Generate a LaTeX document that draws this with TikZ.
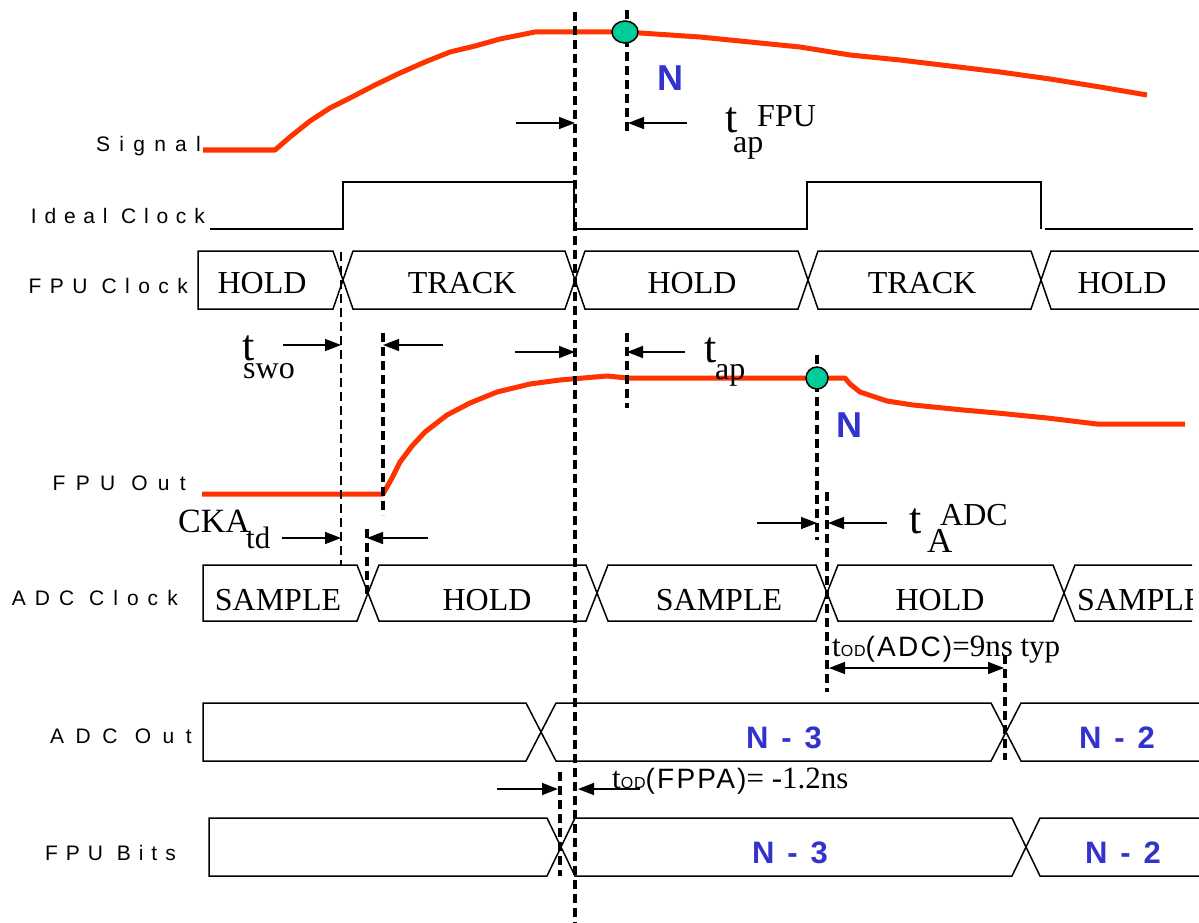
\documentclass[tikz,border=0pt]{standalone}
\usepackage{fontspec}
\setmainfont{Liberation Serif}
\newfontfamily\arialn[LetterSpace=14]{Liberation Sans}
\newfontfamily\arialpl{Liberation Sans}
\usetikzlibrary{arrows.meta}
\definecolor{sigred}{HTML}{FF3300}
\definecolor{nblue}{HTML}{3333CC}
\definecolor{dotgreen}{HTML}{00CC99}
\newcommand{\fsz}[1]{\fontsize{#1}{#1}\selectfont}
\newcommand{\lsp}[1]{\addfontfeature{LetterSpace=#1}}
% hexagon bus segment: #1 top, #2 bottom, #3 half slant, #4 left crossing, #5 right crossing
\newcommand{\hexseg}[5]{%
  \draw[bus] ({#4},{(#1+#2)/2}) -- ({#4+#3},#1) -- ({#5-#3},#1) -- ({#5},{(#1+#2)/2}) -- ({#5-#3},#2) -- ({#4+#3},#2) -- cycle;}
% first segment with a vertical left edge at #4
\newcommand{\firstseg}[5]{%
  \draw[bus] (#4,#1) -- ({#5-#3},#1) -- ({#5},{(#1+#2)/2}) -- ({#5-#3},#2) -- (#4,#2) -- cycle;}
% last open segment from crossing #4 to right end #5
\newcommand{\lastseg}[5]{%
  \draw[bus] (#5,#1) -- ({#4+#3},#1) -- ({#4},{(#1+#2)/2}) -- ({#4+#3},#2) -- (#5,#2);}
\tikzset{
  lbl/.style={font=\arialpl\fsz{21}, anchor=base east, inner sep=0pt},
  bustxt/.style={font=\fsz{32}, anchor=base, inner sep=0pt},
  ntxt/.style={font=\arialn\bfseries\fsz{31}, text=nblue, anchor=base, inner sep=0pt},
  bigN/.style={font=\arialpl\bfseries\fsz{36}, text=nblue, anchor=center, inner sep=0pt},
  tbase/.style={font=\fsz{44}, anchor=base west, inner sep=0pt},
  tsub/.style={font=\fsz{32}, anchor=base west, inner sep=0pt},
  bus/.style={line width=1.5pt, line join=miter},
  sig/.style={draw=sigred, line width=5pt, line join=round},
  dsh/.style={dash pattern=on 9pt off 5pt, line width=3.2pt},
  meas/.style={line width=1.5pt, -{Triangle[length=16pt,width=12pt]}},
  dot/.style={draw=black, line width=1.5pt, fill=dotgreen}
}
\begin{document}
\begin{tikzpicture}[x=1pt,y=-1pt]
\useasboundingbox[fill=white] (0,0) rectangle (1199,923);

% ---------- row labels ----------
\node[lbl] (lsig) at (201,151) {\lsp{44}Signal};
\node[lbl] (lideal) at (205,223) {\lsp{37}Ideal Clock};
\node[lbl] (lfpuclk) at (188,293) {\lsp{40}FPU Clock};
\node[lbl] (lfpuout) at (186,490) {\lsp{49}FPU Out};
\node[lbl] (ladcclk) at (178,605) {\lsp{43}ADC Clock};
\node[lbl] (ladcout) at (192,743) {\lsp{55}ADC Out};
\node[lbl] (lfpubits) at (176,860) {\lsp{38}FPU Bits};

% ---------- Signal ----------
\draw[sig] (203,150) -- (275,150) -- (290,137) -- (310,121) -- (330,108) -- (350,98) -- (375,85) -- (400,73) -- (425,62) -- (450,52) -- (475,46) -- (500,39) -- (520,35) -- (535,32) -- (625,32)
  -- (700,37) -- (800,47) -- (850,55) -- (900,60) -- (950,66) -- (1000,72) -- (1050,79) -- (1100,87) -- (1147,95);

% ---------- Ideal clock ----------
\draw[bus] (210,229) -- (343,229) -- (343,182) -- (574,182) -- (574,229) -- (807,229) -- (807,182) -- (1041,182) -- (1041,229);
\draw[bus] (1045,229) -- (1193,229);

% ---------- FPU clock ----------
\firstseg{251}{309}{10}{198}{343}
\hexseg{251}{309}{10}{343}{575}
\hexseg{251}{309}{10}{575}{808}
\hexseg{251}{309}{10}{808}{1041}
\lastseg{251}{309}{10}{1041}{1199}
\node[bustxt] (h1) at (262,293) {HOLD};
\node[bustxt] (tr1) at (462,293) {TRACK};
\node[bustxt] (h2) at (692,293) {HOLD};
\node[bustxt] (tr2) at (922,293) {TRACK};
\node[bustxt] (h3) at (1122,293) {HOLD};

% ---------- FPU Out ----------
\draw[sig] (202,494) -- (383,494) -- (392,478) -- (400,462) -- (412,446) -- (425,432) -- (447,415) -- (470,403) -- (497,392) -- (530,384) -- (560,380) -- (607,376) -- (627,378) -- (845,378)
  -- (850,384) -- (860,392) -- (887,401) -- (913,405) -- (963,410) -- (997,413) -- (1047,418) -- (1097,424) -- (1185,424);

% ---------- ADC clock ----------
\begin{scope}
\clip (0,540) rectangle (1192,640);
\firstseg{565}{621}{11}{203}{368}
\hexseg{565}{621}{11}{368}{597}
\hexseg{565}{621}{11}{597}{827}
\hexseg{565}{621}{11}{827}{1064}
\lastseg{565}{621}{11}{1064}{1199}
\node[bustxt] (s1) at (278,610) {SAMPLE};
\node[bustxt] (ho1) at (487,610) {HOLD};
\node[bustxt] (s2) at (719,610) {SAMPLE};
\node[bustxt] (ho2) at (940,610) {HOLD};
\node[bustxt, anchor=base west] (s3) at (1077,610) {SAMPLE};
\end{scope}

% ---------- ADC Out ----------
\firstseg{703}{761}{15}{203}{541}
\hexseg{703}{761}{15}{541}{1006}
\lastseg{703}{761}{15}{1006}{1199}
\node[ntxt] (ao3) at (784,748) {N - 3};
\node[ntxt] (ao2) at (1117,748) {N - 2};

% ---------- FPU Bits ----------
\firstseg{818}{876}{14}{209}{561}
\hexseg{818}{876}{14}{561}{1026}
\lastseg{818}{876}{14}{1026}{1199}
\node[ntxt] (fb3) at (790,863) {N - 3};
\node[ntxt] (fb2) at (1123,863) {N - 2};

% ---------- dashed markers ----------
\draw[dsh] (575,12) -- (575,923);
\draw[dsh] (627,10) -- (627,135);
\draw[dsh, line width=2.9pt] (341,252) -- (341,565);
\draw[dsh] (383,333) -- (383,515);
\draw[dsh] (367,529) -- (367,595);
\draw[dsh] (627,333) -- (627,408);
\draw[dsh] (817,355) -- (817,540);
\draw[dsh] (827,492) -- (827,692);
\draw[dsh] (1005,655) -- (1005,760);
\draw[dsh] (560,772) -- (560,876);

% ---------- sample dots ----------
\draw[dot] (625,32) ellipse [x radius=13, y radius=11];
\draw[dot] (817,378) circle [radius=11];
\node[bigN] (n1) at (670,78) {N};
\node[bigN] (n2) at (849,425) {N};

% ---------- measurement arrows ----------
\draw[meas] (516,123) -- (575,123);
\draw[meas] (687,123) -- (628,123);
\node[tbase] (tapf) at (725,133) {t};
\node[tsub] (tapfs) at (733,153) {ap};
\node[tsub] (tapfp) at (757,127) {FPU};

\draw[meas] (283,345) -- (341,345);
\draw[meas] (443,345) -- (383,345);
\node[tbase] (tsw) at (242,360) {t};
\node[tsub] (tsws) at (243,378) {swo};

\draw[meas] (515,352) -- (575,352);
\draw[meas] (685,352) -- (627,352);
\node[tbase] (tap) at (704,362) {t};
\node[tsub] (taps) at (715,379) {ap};

\node[font=\fsz{34}, anchor=base west, inner sep=0pt] (cka) at (178,532) {CKA};
\node[font=\fsz{31}, anchor=base west, inner sep=0pt] (ckas) at (246,548) {td};
\draw[meas] (282,538) -- (341,538);
\draw[meas] (428,538) -- (367,538);

\draw[meas] (757,523) -- (817,523);
\draw[meas] (887,523) -- (828,523);
\node[tbase] (ta) at (909,533) {t};
\node[font=\fsz{35}, anchor=base west, inner sep=0pt] (tas) at (927,552) {A};
\node[tsub] (tasp) at (940,525) {ADC};

\draw[line width=1.5pt, {Triangle[length=16pt,width=12pt]}-{Triangle[length=16pt,width=12pt]}] (829,668) -- (1004,668);
\node[anchor=base west, inner sep=0pt] (todadc) at (832,656) {\fsz{31}t{\arialpl\fsz{16}\lsp{5}OD}{\arialpl\fsz{28}\lsp{8}(ADC)}=9ns typ};

\draw[meas] (497,789) -- (558,789);
\draw[meas] (640,789) -- (578,789);
\node[anchor=base west, inner sep=0pt] (todfp) at (612,788) {\fsz{31}t{\arialpl\fsz{16}\lsp{5}OD}{\arialpl\fsz{28}\lsp{8}(FPPA)}= -1.2ns};
\end{tikzpicture}
\end{document}
